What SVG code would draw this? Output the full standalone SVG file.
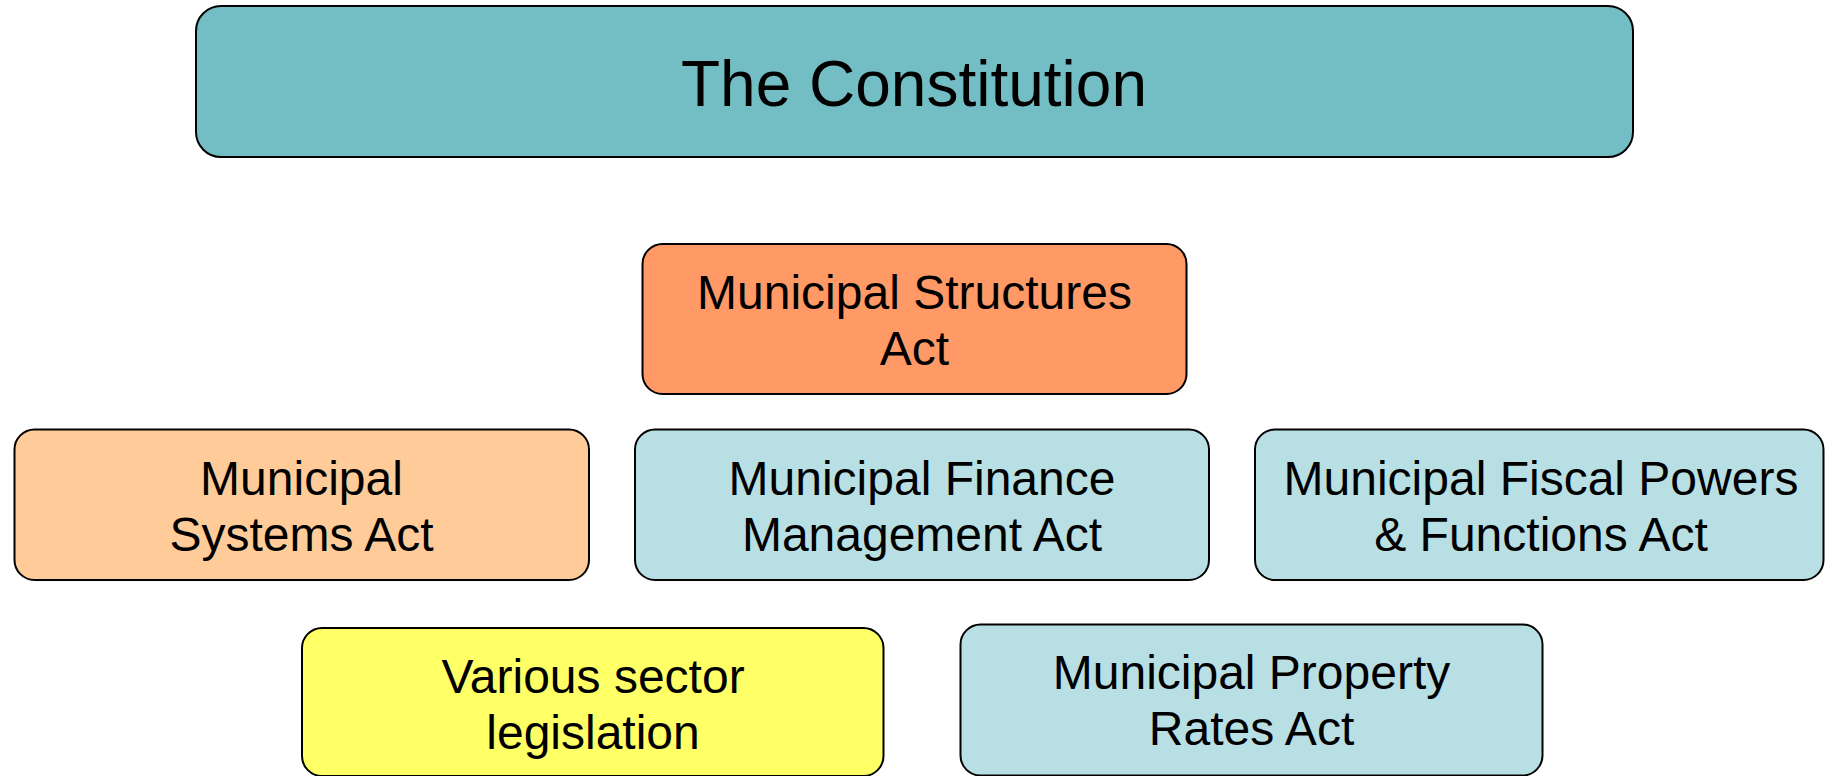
<svg xmlns="http://www.w3.org/2000/svg" width="1825" height="776" viewBox="0 0 1825 776">
<style>
.box{stroke:#000;stroke-width:2}
.t{font-family:"Liberation Sans",Arial,sans-serif;font-size:48px;fill:#000;text-anchor:middle}
.big{font-size:64px}
</style>
<rect width="1825" height="776" fill="#fff"/>
<g id="constitution">
<rect class="box" x="196" y="6" width="1437" height="151" rx="25" fill="#72BEC4"/>
<text class="t big" x="914" y="106">The Constitution</text>
</g>
<g id="structures">
<rect class="box" x="642.5" y="244" width="544" height="150" rx="20" fill="#FF9966"/>
<text class="t" x="914.5" y="309">Municipal Structures</text>
<text class="t" x="914.5" y="365">Act</text>
</g>
<g id="systems">
<rect class="box" x="14.5" y="429.5" width="574.5" height="150.5" rx="20" fill="#FFCC99"/>
<text class="t" x="301.5" y="495">Municipal</text>
<text class="t" x="301.5" y="551">Systems Act</text>
</g>
<g id="finance">
<rect class="box" x="635" y="429.5" width="574" height="150.5" rx="20" fill="#B8DFE3"/>
<text class="t" x="922" y="495">Municipal Finance</text>
<text class="t" x="922" y="551">Management Act</text>
</g>
<g id="fiscal">
<rect class="box" x="1255" y="429.5" width="568.5" height="150.5" rx="20" fill="#B8DFE3"/>
<text class="t" x="1541" y="495">Municipal Fiscal Powers</text>
<text class="t" x="1541" y="551">&amp; Functions Act</text>
</g>
<g id="sector">
<rect class="box" x="302" y="628" width="581.5" height="148" rx="20" fill="#FFFF66"/>
<text class="t" x="593" y="693">Various sector</text>
<text class="t" x="593" y="749">legislation</text>
</g>
<g id="property">
<rect class="box" x="960.5" y="624.5" width="582" height="151" rx="20" fill="#B8DFE3"/>
<text class="t" x="1251.5" y="689">Municipal Property</text>
<text class="t" x="1251.5" y="745">Rates Act</text>
</g>
<g id="connectors"></g>
</svg>
